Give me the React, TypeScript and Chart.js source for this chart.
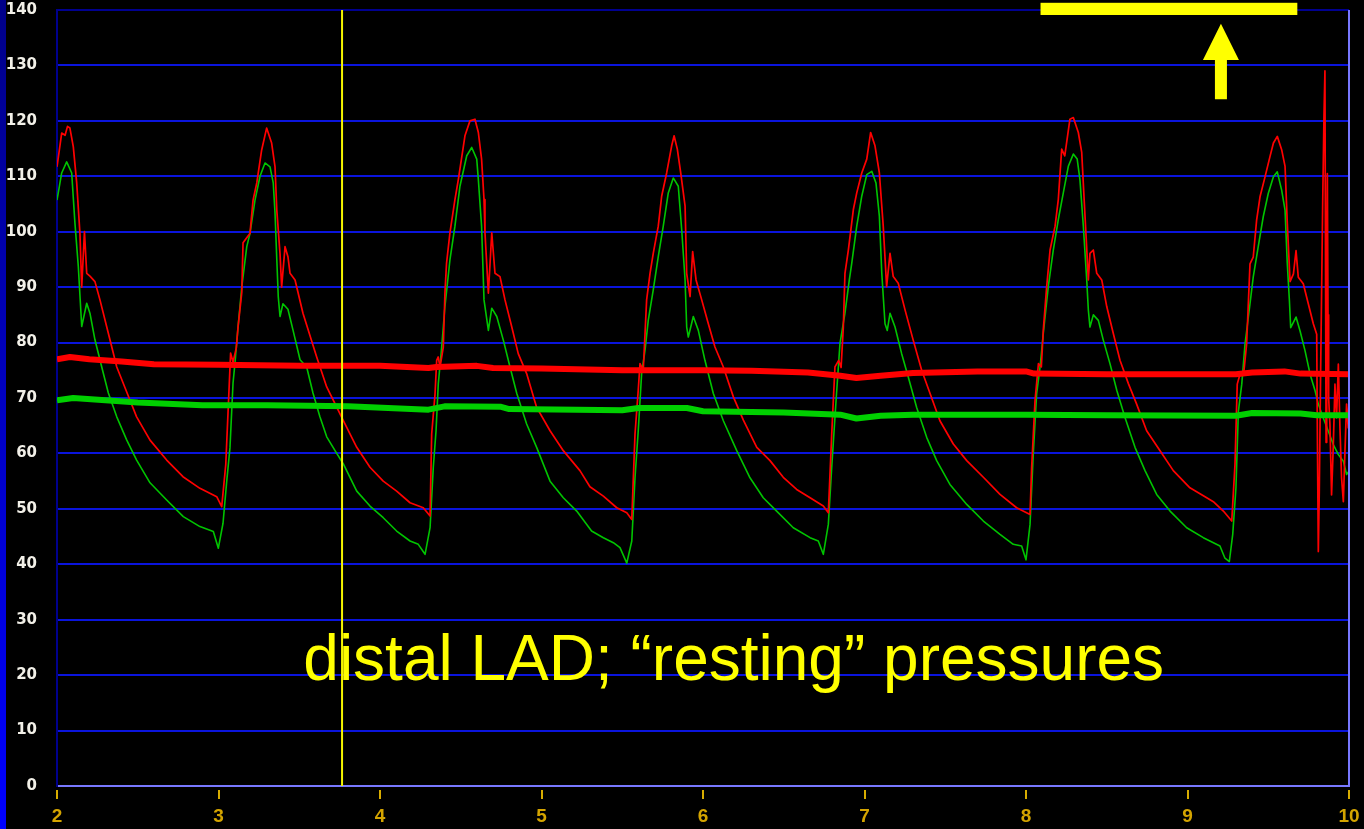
import { useEffect, useRef } from "react";
import { Chart, registerables } from "chart.js";

Chart.register(...registerables);

type Pt = [number, number];

// Time axis (s) and pressure axis (mmHg)
const timeTicks = [2, 3, 4, 5, 6, 7, 8, 9, 10];
const pressureTicks = [0, 10, 20, 30, 40, 50, 60, 70, 80, 90, 100, 110, 120, 130, 140];

// Phasic aortic pressure (Pa), red trace
const aorticPhasic: Pt[] = [
  [2.000, 111.7], [2.029, 117.8], [2.050, 117.4], [2.065, 119.0], [2.080, 118.7], [2.101, 115.3],
  [2.122, 108.8], [2.142, 99.7], [2.153, 90.0], [2.170, 100.0], [2.184, 92.5], [2.204, 92.0],
  [2.235, 91.0], [2.266, 87.7], [2.328, 80.5], [2.370, 75.6], [2.452, 69.6], [2.493, 66.6],
  [2.576, 62.4], [2.679, 58.8], [2.780, 55.8], [2.885, 53.7], [2.989, 52.2], [3.020, 50.4],
  [3.045, 58.0], [3.075, 78.1], [3.090, 76.5], [3.110, 79.0], [3.121, 82.8], [3.144, 89.0],
  [3.152, 98.0], [3.195, 99.7], [3.214, 105.7], [3.237, 108.8], [3.267, 114.7], [3.298, 118.7],
  [3.329, 116.0], [3.350, 111.7], [3.361, 103.9], [3.381, 96.0], [3.391, 90.0], [3.412, 97.3],
  [3.430, 95.5], [3.443, 92.5], [3.474, 91.3], [3.523, 85.3], [3.608, 77.4], [3.670, 72.0],
  [3.773, 65.9], [3.856, 61.1], [3.938, 57.5], [4.020, 55.0], [4.103, 53.2], [4.186, 51.1],
  [4.268, 50.2], [4.310, 48.7],
  [4.320, 63.5], [4.341, 70.8], [4.351, 76.8], [4.360, 77.4], [4.372, 75.6], [4.392, 79.2],
  [4.402, 88.9], [4.412, 94.3], [4.433, 99.8], [4.464, 105.8], [4.485, 109.4], [4.526, 117.3],
  [4.557, 120.0], [4.588, 120.3], [4.609, 117.9], [4.629, 113.1], [4.644, 105.8], [4.650, 99.8],
  [4.671, 88.9], [4.692, 99.8], [4.712, 92.5], [4.743, 91.9], [4.774, 87.7], [4.816, 82.8],
  [4.856, 78.0], [4.908, 74.4], [4.970, 68.3], [5.053, 64.1], [5.135, 60.5], [5.238, 56.9],
  [5.300, 54.0], [5.383, 52.3], [5.466, 50.2], [5.528, 49.3], [5.559, 48.1],
  [5.579, 63.5], [5.599, 71.4], [5.610, 76.2], [5.630, 75.0], [5.641, 81.6], [5.651, 87.7],
  [5.672, 92.5], [5.692, 96.1], [5.723, 101.0], [5.744, 106.4], [5.775, 110.6], [5.806, 115.5],
  [5.821, 117.3], [5.841, 114.9], [5.862, 110.6], [5.889, 104.6], [5.899, 92.5], [5.920, 88.3],
  [5.936, 96.4], [5.957, 91.3], [5.992, 87.7], [6.033, 83.4], [6.074, 79.2], [6.126, 75.6],
  [6.188, 70.2], [6.250, 66.0], [6.333, 61.1], [6.415, 58.7], [6.497, 55.7], [6.580, 53.5],
  [6.663, 52.0], [6.745, 50.5], [6.776, 49.3],
  [6.797, 63.5], [6.817, 75.6], [6.840, 76.8], [6.855, 75.5], [6.869, 82.8], [6.879, 92.5],
  [6.900, 96.7], [6.931, 104.0], [6.952, 107.0], [6.983, 110.6], [7.014, 113.1], [7.038, 117.9],
  [7.065, 115.5], [7.092, 110.6], [7.116, 101.0], [7.137, 90.1], [7.158, 96.1], [7.178, 91.9],
  [7.209, 90.7], [7.251, 85.9], [7.302, 80.4], [7.354, 75.0], [7.406, 70.8], [7.467, 65.9],
  [7.550, 61.7], [7.633, 58.7], [7.736, 55.7], [7.839, 52.6], [7.942, 50.2], [8.025, 49.0],
  [8.035, 57.5], [8.056, 69.6], [8.077, 76.2], [8.095, 75.6], [8.107, 82.2], [8.128, 90.1],
  [8.149, 96.7], [8.180, 101.0], [8.200, 105.8], [8.221, 114.9], [8.240, 113.7], [8.272, 120.3],
  [8.293, 120.6], [8.324, 117.9], [8.345, 114.3], [8.360, 105.8], [8.371, 99.8], [8.386, 91.3],
  [8.396, 96.1], [8.417, 96.7], [8.438, 92.5], [8.469, 91.3], [8.500, 86.5], [8.541, 81.6],
  [8.582, 76.8], [8.634, 72.6], [8.685, 68.9], [8.747, 64.1], [8.830, 60.5], [8.912, 56.9],
  [9.015, 53.8], [9.119, 52.0], [9.160, 51.3], [9.222, 49.6], [9.274, 47.8],
  [9.294, 58.0], [9.308, 72.5], [9.325, 74.3], [9.350, 75.0], [9.366, 79.7], [9.387, 94.2],
  [9.407, 95.4], [9.428, 102.1], [9.449, 106.3], [9.480, 109.9], [9.511, 113.6], [9.532, 116.0],
  [9.556, 117.2], [9.583, 114.8], [9.604, 111.8], [9.618, 101.5], [9.635, 91.0], [9.656, 92.4],
  [9.672, 96.6], [9.686, 91.8], [9.717, 90.6], [9.748, 87.0], [9.779, 83.4], [9.800, 81.5],
  [9.804, 64.0], [9.810, 42.3], [9.816, 53.1], [9.824, 73.7], [9.837, 105.1], [9.845, 120.8],
  [9.851, 129.0], [9.855, 90.0], [9.858, 62.0], [9.862, 95.0], [9.866, 110.5], [9.870, 85.0],
  [9.874, 70.0], [9.882, 65.2], [9.892, 52.5],
  [9.903, 61.6], [9.913, 72.5], [9.923, 66.4], [9.934, 76.1], [9.944, 64.6], [9.954, 55.6],
  [9.965, 51.3], [9.975, 60.4], [9.985, 68.9], [9.995, 64.6], [10.000, 69.5],
];

// Phasic distal coronary pressure (Pd), green trace
const distalPhasic: Pt[] = [
  [2.000, 105.7], [2.029, 110.6], [2.060, 112.6], [2.091, 110.6], [2.111, 101.6], [2.132, 93.7],
  [2.153, 82.9], [2.184, 87.1], [2.204, 85.3], [2.235, 80.5], [2.277, 75.6], [2.318, 70.9],
  [2.370, 66.6], [2.432, 62.4], [2.493, 58.8], [2.576, 54.7], [2.679, 51.6], [2.782, 48.6],
  [2.885, 46.8], [2.968, 45.9], [2.999, 42.9],
  [3.028, 47.4], [3.051, 55.0], [3.071, 61.0], [3.090, 72.7], [3.102, 76.3], [3.121, 82.8],
  [3.144, 90.0], [3.175, 97.3], [3.195, 99.7], [3.226, 105.7], [3.257, 110.0], [3.288, 112.4],
  [3.319, 111.7], [3.339, 108.8], [3.350, 103.4], [3.361, 95.0], [3.370, 88.3], [3.381, 84.7],
  [3.399, 87.0], [3.430, 86.0], [3.461, 82.3], [3.505, 76.9], [3.546, 75.6], [3.585, 70.9],
  [3.628, 66.6], [3.670, 63.0], [3.732, 60.0], [3.773, 58.1], [3.856, 53.2], [3.938, 50.5],
  [4.020, 48.4], [4.103, 46.0], [4.186, 44.2], [4.237, 43.6], [4.279, 41.8],
  [4.310, 46.6], [4.330, 57.5], [4.347, 64.1], [4.361, 72.6], [4.382, 79.2], [4.402, 86.5],
  [4.433, 94.9], [4.464, 101.0], [4.495, 108.2], [4.537, 113.7], [4.568, 115.2], [4.599, 113.1],
  [4.609, 109.4], [4.629, 101.0], [4.644, 87.7], [4.671, 82.2], [4.692, 86.2], [4.723, 84.7],
  [4.764, 80.4], [4.805, 75.6], [4.847, 70.8], [4.908, 65.3], [4.970, 61.1], [5.053, 55.0],
  [5.135, 52.0], [5.218, 49.6], [5.310, 46.0], [5.383, 44.8], [5.445, 43.9], [5.486, 43.0],
  [5.528, 40.2],
  [5.559, 44.2], [5.579, 55.6], [5.599, 64.1], [5.620, 74.4], [5.641, 78.6], [5.661, 84.0],
  [5.692, 89.5], [5.723, 95.5], [5.754, 101.0], [5.785, 107.0], [5.816, 109.7], [5.847, 108.2],
  [5.868, 100.4], [5.889, 91.3], [5.899, 82.8], [5.909, 81.0], [5.940, 84.7], [5.971, 82.2],
  [6.012, 76.8], [6.064, 70.8], [6.126, 65.9], [6.209, 60.5], [6.291, 55.6], [6.373, 52.0],
  [6.456, 49.6], [6.559, 46.6], [6.663, 44.8], [6.714, 44.2], [6.745, 41.8],
  [6.776, 47.2], [6.797, 57.5], [6.824, 69.6], [6.848, 79.8], [6.879, 85.3], [6.906, 91.3],
  [6.921, 94.3], [6.952, 101.0], [6.983, 106.4], [7.014, 110.3], [7.045, 110.9], [7.071, 108.8],
  [7.092, 102.8], [7.107, 92.5], [7.127, 83.4], [7.141, 82.2], [7.158, 85.3], [7.189, 82.8],
  [7.230, 78.0], [7.271, 73.8], [7.323, 68.3], [7.385, 62.9], [7.447, 58.7], [7.529, 54.4],
  [7.633, 50.8], [7.736, 47.8], [7.839, 45.4], [7.921, 43.6], [7.973, 43.3], [8.000, 40.8],
  [8.025, 47.2], [8.045, 59.9], [8.066, 70.8], [8.087, 75.6], [8.107, 81.6], [8.138, 90.1],
  [8.169, 96.7], [8.200, 102.2], [8.231, 107.0], [8.262, 111.8], [8.293, 114.0], [8.317, 113.1],
  [8.334, 109.4], [8.355, 101.0], [8.376, 91.3], [8.386, 85.9], [8.396, 82.8], [8.417, 85.0],
  [8.448, 84.0], [8.479, 80.4], [8.520, 76.2], [8.562, 71.4], [8.613, 66.5], [8.675, 61.1],
  [8.737, 56.9], [8.809, 52.6], [8.892, 49.6], [8.995, 46.6], [9.098, 44.8], [9.201, 43.3],
  [9.232, 41.1], [9.259, 40.5],
  [9.280, 45.4], [9.300, 53.8], [9.315, 67.6], [9.336, 72.5], [9.356, 79.7], [9.387, 87.0],
  [9.407, 91.8], [9.438, 97.3], [9.469, 102.7], [9.500, 106.9], [9.532, 109.9], [9.556, 110.8],
  [9.583, 107.5], [9.604, 103.9], [9.618, 94.2], [9.631, 87.6], [9.639, 82.7], [9.672, 84.6],
  [9.697, 82.1], [9.728, 78.5], [9.759, 74.3], [9.790, 71.3], [9.810, 68.9], [9.841, 66.4],
  [9.872, 64.0], [9.903, 61.6], [9.934, 59.8], [9.965, 58.6], [9.985, 56.2], [10.000, 56.8],
];

// Running mean pressures (thick traces)
const aorticMean: Pt[] = [
  [2.0, 77.0], [2.08, 77.4], [2.2, 77.0], [2.4, 76.6], [2.6, 76.1], [3.0, 76.0], [3.5, 75.8],
  [4.0, 75.8], [4.3, 75.4], [4.35, 75.6], [4.6, 75.8], [4.7, 75.4], [5.0, 75.3], [5.5, 75.0],
  [6.0, 75.0], [6.3, 74.9], [6.65, 74.6], [6.85, 74.0], [6.95, 73.6], [7.1, 74.0], [7.3, 74.5],
  [7.7, 74.8], [8.0, 74.8], [8.05, 74.4], [8.5, 74.3], [9.3, 74.3], [9.4, 74.6], [9.6, 74.8],
  [9.7, 74.4], [10.0, 74.3],
];

const distalMean: Pt[] = [
  [2.0, 69.6], [2.1, 70.0], [2.3, 69.6], [2.5, 69.2], [2.9, 68.7], [3.3, 68.7], [3.8, 68.5],
  [4.3, 67.9], [4.4, 68.5], [4.75, 68.4], [4.8, 68.0], [5.5, 67.8], [5.6, 68.2], [5.9, 68.2],
  [6.0, 67.6], [6.5, 67.4], [6.85, 67.0], [6.95, 66.3], [7.1, 66.8], [7.3, 67.0], [8.0, 67.0],
  [8.5, 66.9], [9.3, 66.8], [9.4, 67.3], [9.7, 67.2], [9.8, 66.9], [10.0, 66.9],
];

// Cursor, highlighted window, arrow and caption
const cursorTime = 3.765;
const windowStart = 8.09;
const windowEnd = 9.68;
const windowTop = 141.3;
const windowBottom = 139.1;
const arrowTime = 9.207;
const arrowTip = 137.5;
const arrowHeadBase = 131.0;
const arrowTail = 123.9;
const captionText = "distal LAD; \u201cresting\u201d pressures";
const captionTime = 6.19;
const captionPressure = 19.1;

const toXY = (pts: Pt[]) => pts.map(([x, y]) => ({ x, y }));

// Scales keep exactly the box given by layout padding
const noScalePadding = (s: any) => {
  s.paddingLeft = 0;
  s.paddingRight = 0;
  s.paddingTop = 0;
  s.paddingBottom = 0;
};

const tracePlugin = {
  id: "traceDecor",
  beforeDraw(chart: any) {
    const { ctx, width, height } = chart;
    ctx.save();
    ctx.fillStyle = "#000000";
    ctx.fillRect(0, 0, width, height);
    const g = ctx.createLinearGradient(0, 0, 0, height);
    g.addColorStop(0, "#000088");
    g.addColorStop(1, "#0000ff");
    ctx.fillStyle = g;
    ctx.fillRect(0, 0, 6, height);
    ctx.restore();
  },
  afterDraw(chart: any) {
    const { ctx, chartArea } = chart;
    const xs = chart.scales.x;
    const ys = chart.scales.y;
    ctx.save();
    // right frame edge
    ctx.strokeStyle = "#7878ff";
    ctx.lineWidth = 2;
    ctx.beginPath();
    ctx.moveTo(chartArea.right, chartArea.top);
    ctx.lineTo(chartArea.right, chartArea.bottom + 1);
    ctx.stroke();
    // time tick marks
    ctx.strokeStyle = "#d8ac00";
    ctx.lineWidth = 2;
    for (const t of timeTicks) {
      const px = Math.round(xs.getPixelForValue(t));
      ctx.beginPath();
      ctx.moveTo(px, chartArea.bottom + 4);
      ctx.lineTo(px, chartArea.bottom + 13);
      ctx.stroke();
    }
    // cursor
    ctx.strokeStyle = "#f4f400";
    ctx.lineWidth = 2;
    const cx = xs.getPixelForValue(cursorTime);
    ctx.beginPath();
    ctx.moveTo(cx, chartArea.top);
    ctx.lineTo(cx, chartArea.bottom);
    ctx.stroke();
    // window bar
    ctx.fillStyle = "#ffff00";
    const bx0 = xs.getPixelForValue(windowStart);
    const bx1 = xs.getPixelForValue(windowEnd);
    const by0 = ys.getPixelForValue(windowTop);
    const by1 = ys.getPixelForValue(windowBottom);
    ctx.fillRect(bx0, by0, bx1 - bx0, by1 - by0);
    // arrow
    const ax = xs.getPixelForValue(arrowTime);
    const aTip = ys.getPixelForValue(arrowTip);
    const aBase = ys.getPixelForValue(arrowHeadBase);
    const aTail = ys.getPixelForValue(arrowTail);
    ctx.beginPath();
    ctx.moveTo(ax, aTip);
    ctx.lineTo(ax + 18, aBase);
    ctx.lineTo(ax + 6, aBase);
    ctx.lineTo(ax + 6, aTail);
    ctx.lineTo(ax - 6, aTail);
    ctx.lineTo(ax - 6, aBase);
    ctx.lineTo(ax - 18, aBase);
    ctx.closePath();
    ctx.fill();
    // caption
    ctx.font = '64px "Liberation Sans", Arial, sans-serif';
    ctx.textAlign = "center";
    ctx.textBaseline = "alphabetic";
    ctx.fillText(captionText, xs.getPixelForValue(captionTime), ys.getPixelForValue(captionPressure));
    ctx.restore();
  },
};

export default function App() {
  const canvasRef = useRef<HTMLCanvasElement | null>(null);

  useEffect(() => {
    const canvas = canvasRef.current;
    if (!canvas) return;
    const chart = new Chart(canvas, {
      type: "line",
      data: {
        datasets: [
          {
            label: "Pa mean",
            data: toXY(aorticMean),
            borderColor: "#ff0000",
            borderWidth: 6,
            pointRadius: 0,
            order: 0,
          },
          {
            label: "Pd mean",
            data: toXY(distalMean),
            borderColor: "#00d000",
            borderWidth: 6,
            pointRadius: 0,
            order: 1,
          },
          {
            label: "Pa",
            data: toXY(aorticPhasic),
            borderColor: "#ff0000",
            borderWidth: 1.7,
            pointRadius: 0,
            order: 2,
          },
          {
            label: "Pd",
            data: toXY(distalPhasic),
            borderColor: "#00c400",
            borderWidth: 1.6,
            pointRadius: 0,
            order: 3,
          },
        ],
      },
      plugins: [tracePlugin],
      options: {
        animation: false,
        responsive: false,
        devicePixelRatio: 1,
        events: [],
        layout: { padding: { left: 0, right: 15, top: 10, bottom: 0 } },
        elements: { line: { tension: 0, borderJoinStyle: "round" } },
        plugins: { legend: { display: false }, tooltip: { enabled: false } },
        scales: {
          x: {
            type: "linear",
            min: timeTicks[0],
            max: timeTicks[timeTicks.length - 1],
            afterBuildTicks: (s: any) => {
              s.ticks = timeTicks.map((v) => ({ value: v }));
            },
            afterFit: (s: any) => {
              s.height = 43;
              noScalePadding(s);
            },
            grid: { display: false, drawTicks: false },
            border: { display: true, color: "#7878ff", width: 2 },
            ticks: {
              color: "#d4a400",
              padding: 19,
              maxRotation: 0,
              autoSkip: false,
              font: { family: "Liberation Sans", size: 19, weight: "bold" },
            },
          },
          y: {
            type: "linear",
            min: pressureTicks[0],
            max: pressureTicks[pressureTicks.length - 1],
            afterBuildTicks: (s: any) => {
              s.ticks = pressureTicks.map((v) => ({ value: v }));
            },
            afterFit: (s: any) => {
              s.width = 57;
              noScalePadding(s);
            },
            grid: {
              drawTicks: false,
              lineWidth: 2,
              color: (c: any) => {
                const v = c.tick ? c.tick.value : 0;
                if (v === 140) return "#000090";
                if (v === 0) return "#7878ff";
                return "#0a14dc";
              },
            },
            border: { display: true, color: "#00008c", width: 2 },
            ticks: {
              color: "#f2f0e8",
              padding: 20,
              autoSkip: false,
              font: { family: "DejaVu Sans", size: 15, weight: "bold" },
            },
          },
        },
      },
    });
    return () => chart.destroy();
  }, []);

  return (
    <div style={{ position: "fixed", left: 0, top: 0, width: 1364, height: 829, background: "#000" }}>
      <canvas ref={canvasRef} width={1364} height={829} style={{ display: "block" }} />
    </div>
  );
}
